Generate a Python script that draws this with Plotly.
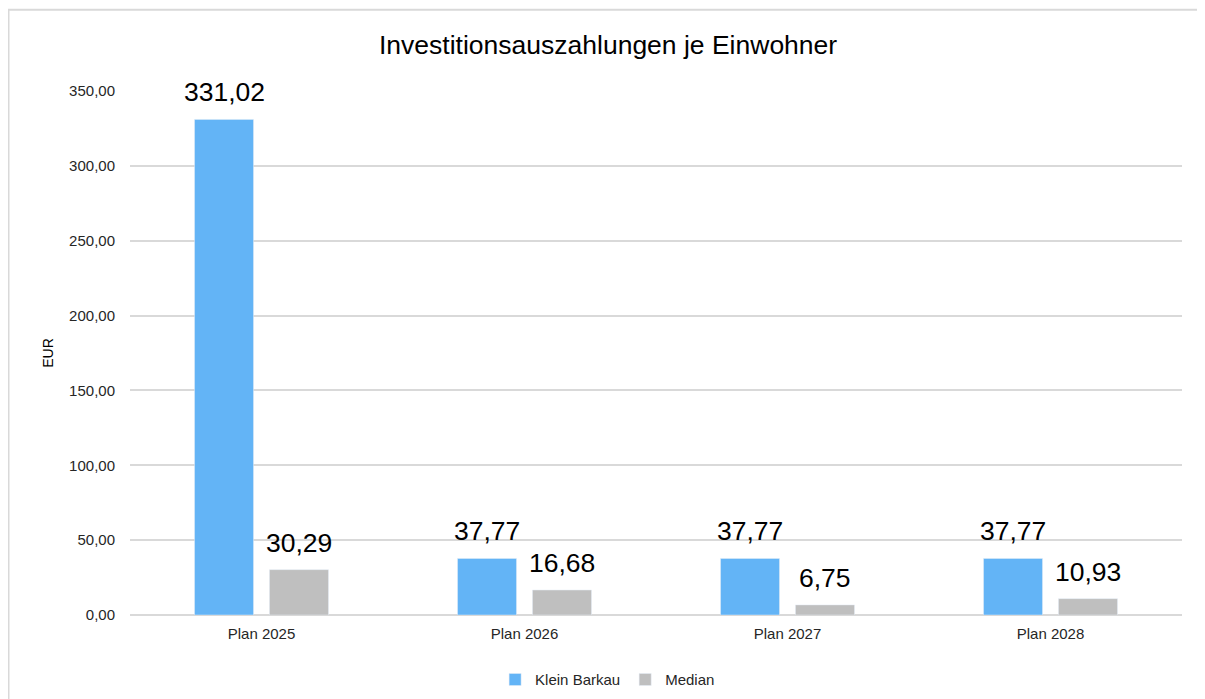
import plotly.graph_objects as go

categories = ["Plan 2025", "Plan 2026", "Plan 2027", "Plan 2028"]
klein_barkau = [331.02, 37.77, 37.77, 37.77]
median = [30.29, 16.68, 6.75, 10.93]
y_ticks = [0, 50, 100, 150, 200, 250, 300, 350]

BLUE = "#63B4F6"
GRAY = "#BFBFBF"
FONT = "Liberation Sans, Arial, sans-serif"


def fmt(v):
    return f"{v:.2f}".replace(".", ",")


fig = go.Figure()
fig.add_trace(go.Bar(x=categories, y=klein_barkau, name="Klein Barkau",
                     marker=dict(color=BLUE)))
fig.add_trace(go.Bar(x=categories, y=median, name="Median",
                     marker=dict(color=GRAY)))

# data labels above each bar (offset left/right within the group)
annotations = []
for series, shift in ((klein_barkau, -37.5), (median, 37.5)):
    for c, v in zip(categories, series):
        annotations.append(dict(
            x=c, y=v, xref="x", yref="y", text=fmt(v), showarrow=False,
            xshift=shift, yshift=10, yanchor="bottom",
            font=dict(size=26.5, color="#000000", family=FONT),
        ))

# page is drawn with an 8px body margin, margins below account for that
fig.update_layout(
    title=dict(text="Investitionsauszahlungen je Einwohner", x=0.498, xanchor="center",
               y=0.947, yanchor="middle",
               font=dict(size=26.5, color="#000000", family=FONT)),
    barmode="group",
    bargap=0.43,
    bargroupgap=0.213,
    separators=",.",
    font=dict(family=FONT, size=15, color="#404040"),
    paper_bgcolor="white",
    plot_bgcolor="white",
    width=1205, height=699,
    margin=dict(l=122, r=31, t=83, b=91),
    xaxis=dict(showgrid=False, showline=False, ticks="", ticklabelstandoff=8,
               tickfont=dict(size=15, color="#262626")),
    yaxis=dict(range=[0, 350], tickvals=y_ticks, tickformat=".2f",
               showgrid=True, gridcolor="#D9D9D9", gridwidth=1.5,
               zeroline=True, zerolinecolor="#D9D9D9", zerolinewidth=1.5,
               ticks="", ticklabelstandoff=14,
               title=dict(text="EUR", font=dict(size=14, color="#000000"), standoff=12),
               tickfont=dict(size=15, color="#262626")),
    legend=dict(orientation="h", x=0.454, xanchor="center",
                y=-0.09, yanchor="top",
                font=dict(size=15, color="#262626"), itemwidth=30),
    annotations=annotations,
    shapes=[dict(type="rect", xref="paper", yref="paper",
                 x0=-0.1155, x1=1.03, y0=-0.2, y1=1.155,
                 line=dict(color="#D9D9D9", width=2), layer="below")],
)

fig.write_html("out.html")
